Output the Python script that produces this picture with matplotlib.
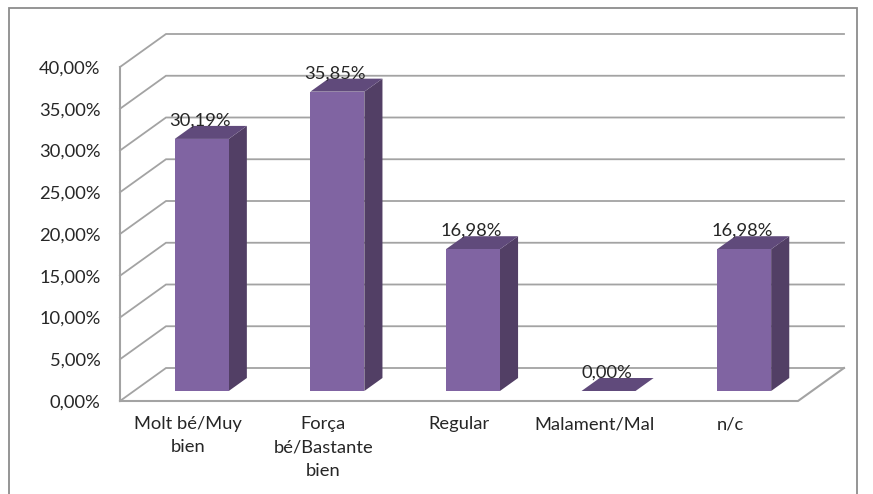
import matplotlib
matplotlib.use("Agg")
import matplotlib.pyplot as plt
from matplotlib.patches import Rectangle

categories = ["Molt bé/Muy\nbien", "Força\nbé/Bastante\nbien", "Regular", "Malament/Mal", "n/c"]
values = [30.19, 35.85, 16.98, 0.00, 16.98]
labels = ["30,19%", "35,85%", "16,98%", "0,00%", "16,98%"]
yticks = [0, 5, 10, 15, 20, 25, 30, 35, 40]
yticklabels = ["0,00%", "5,00%", "10,00%", "15,00%", "20,00%", "25,00%", "30,00%", "35,00%", "40,00%"]

W, H = 873, 494
plt.rcParams["font.family"] = ["Lato", "DejaVu Sans"]
fig = plt.figure(figsize=(W / 100, H / 100), dpi=100)
ax = fig.add_axes([120 / W, 1 - 401 / H, 678 / W, 334 / H])
ax.set_xlim(0, len(categories))
ax.set_ylim(0, 40)
for s in ax.spines.values():
    s.set_visible(False)
ax.patch.set_alpha(0)

# oblique projection: depth d (0 front, 1 back) shifts points right and up
DX = 46 / (678 / 5)
DY = 33 / (334 / 40)
def proj(x, y, d):
    return x + d * DX, y + d * DY

GRID = "#a3a3a3"
n = len(categories)
for t in yticks:
    x0, y0 = proj(0, t, 0)
    x1, y1 = proj(0, t, 1)
    x2, y2 = proj(n, t, 1)
    ax.plot([x0, x1, x2], [y0, y1, y2], color=GRID, lw=1.3, clip_on=False, zorder=1, solid_joinstyle="miter")
ax.plot([0, 0], [0, 40], color=GRID, lw=1.5, clip_on=False, zorder=1)
xa, ya = proj(n, 0, 1)
ax.plot([0, n, xa], [0, 0, ya], color=GRID, lw=1.5, clip_on=False, zorder=1)

FACE, SIDE, TOP = "#8064a2", "#523f65", "#604a7b"
BW = 54 / (678 / 5)
D0, D1 = 10 / 33, 10 / 33 + 13 / 33
for i, v in enumerate(values):
    c = i + 0.5
    l, r = c - BW / 2, c + BW / 2
    def face(pts, col, z):
        p = [proj(*q) for q in pts]
        ax.fill([a for a, _ in p], [b for _, b in p], color=col, lw=0, clip_on=False, zorder=z)
    face([(r, 0, D0), (r, 0, D1), (r, v, D1), (r, v, D0)], SIDE, 2)
    face([(l, v, D0), (r, v, D0), (r, v, D1), (l, v, D1)], TOP, 2)
    face([(l, 0, D0), (r, 0, D0), (r, v, D0), (l, v, D0)], FACE, 3)
    tx, ty = proj(c, v, D0)
    ax.annotate(labels[i], (tx, ty), xytext=(-2, 18.5), textcoords="offset pixels", ha="center", va="center",
                fontsize=13.2, color="#262626", zorder=5, annotation_clip=False)

ax.set_xticks([i + 0.5 for i in range(n)])
ax.set_xticklabels(categories, fontsize=13.2, color="#262626", linespacing=1.55, va="top")
ax.set_yticks(yticks)
ax.set_yticklabels(yticklabels, fontsize=13.2, color="#262626")
ax.tick_params(axis="x", length=0, pad=11)
ax.tick_params(axis="y", length=0, pad=14)

fig.add_artist(Rectangle((9 / W, -0.02), 848 / W, 1.02 - 8 / H, transform=fig.transFigure,
                         fill=False, edgecolor="#8c8c8c", lw=1.3))
fig.savefig("out.png", dpi=100)
